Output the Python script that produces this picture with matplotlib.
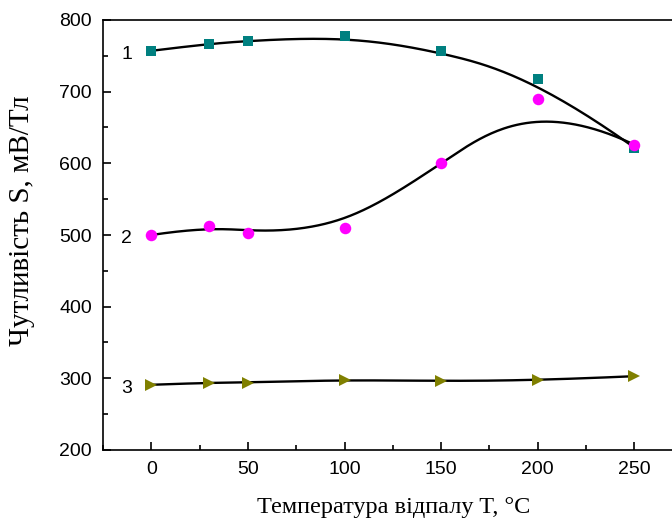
import numpy as np
import matplotlib
matplotlib.use("Agg")
import matplotlib.pyplot as plt
from matplotlib.ticker import MultipleLocator

# Data
temps = [0, 30, 50, 100, 150, 200, 250]
s1 = [757, 767, 771, 777, 757, 718, 622]
s2 = [500, 512, 503, 510, 600, 690, 626]
s3 = [291, 294, 294, 298, 296, 297, 303]
curve_labels = ["1", "2", "3"]


def bspline(xs, ys, n=300, k=3):
    P = np.column_stack([xs, ys]).astype(float)
    m = len(P)
    inner = np.arange(1, m - k)
    knots = np.concatenate([np.zeros(k + 1), inner, np.full(k + 1, m - k)]).astype(float)
    ts = np.linspace(0, m - k, n)
    ts[-1] -= 1e-9

    def basis(i, p, t):
        if p == 0:
            return 1.0 if knots[i] <= t < knots[i + 1] else 0.0
        a = 0.0
        d1 = knots[i + p] - knots[i]
        if d1 > 0:
            a += (t - knots[i]) / d1 * basis(i, p - 1, t)
        d2 = knots[i + p + 1] - knots[i + 1]
        if d2 > 0:
            a += (knots[i + p + 1] - t) / d2 * basis(i + 1, p - 1, t)
        return a

    out = np.array([sum(basis(i, k, t) * P[i] for i in range(m)) for t in ts])
    return out[:, 0], out[:, 1]


fig = plt.figure(figsize=(6.72, 5.22), dpi=100)
ax = fig.add_axes([103 / 672, 1 - 450 / 522, 570 / 672, 430 / 522])

for ys, mk, col, ms in [(s1, "s", "#008080", 7),
                        (s2, "o", "#FF00FF", 8.3),
                        (s3, ">", "#808000", 9)]:
    cx, cy = bspline(temps, ys)
    ax.plot(cx, cy, color="black", lw=1.7, zorder=2)
    ax.plot(temps, ys, linestyle="none", marker=mk, color=col, ms=ms,
            markeredgewidth=0, zorder=3)

for lab, y in zip(curve_labels, [s1[0], s2[0], s3[0]]):
    ax.text(-12.8, y - 5, lab, fontsize=14, ha="center", va="center",
            family="Liberation Sans")

ax.set_xlim(-25, 270)
ax.set_ylim(200, 800)
ax.xaxis.set_major_locator(MultipleLocator(50))
ax.xaxis.set_minor_locator(MultipleLocator(25))
ax.yaxis.set_major_locator(MultipleLocator(100))
ax.yaxis.set_minor_locator(MultipleLocator(50))
ax.tick_params(which="both", direction="in", top=False, right=False, width=1.2)
ax.tick_params(which="major", length=6, labelsize=14, pad=8)
ax.tick_params(which="minor", length=3.5)
for lbl in ax.get_xticklabels() + ax.get_yticklabels():
    lbl.set_family("Liberation Sans")
for sp in ax.spines.values():
    sp.set_linewidth(1.2)

fig.text(393.5 / 672, 1 - 507 / 522, "Температура відпалу T, °C", fontsize=17.5,
         family="Liberation Serif", ha="center", va="center")
fig.text(22 / 672, 1 - 221 / 522, "Чутливість S, мВ/Тл", fontsize=21,
         family="Liberation Serif", ha="center", va="center", rotation=90)

fig.savefig("out.png", dpi=100)
